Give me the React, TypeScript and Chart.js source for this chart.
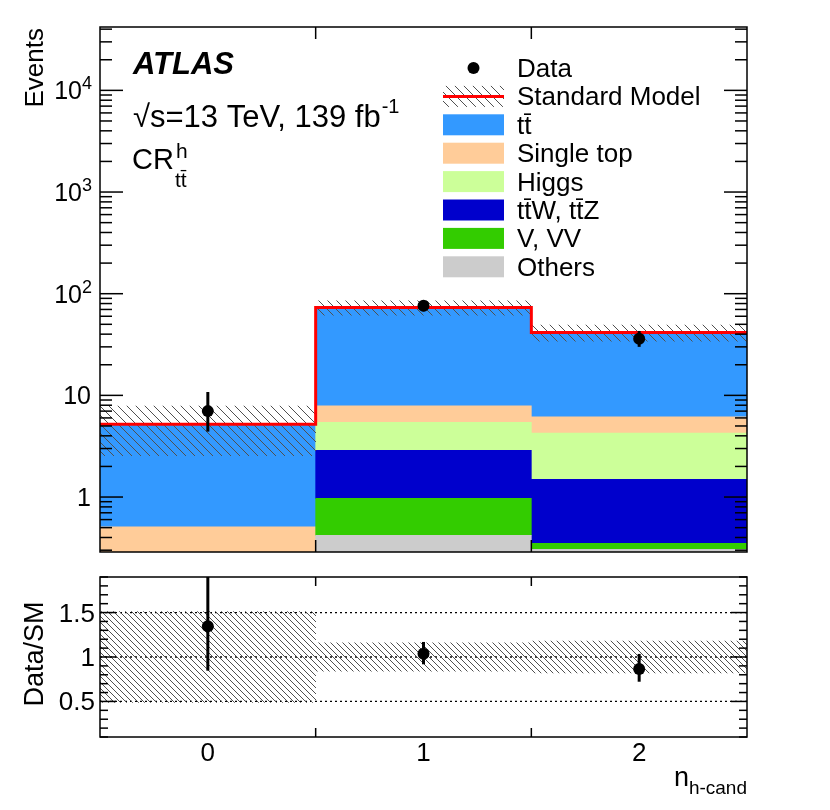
import { useEffect, useRef } from "react";
import { Chart, registerables } from "chart.js";

Chart.register(...registerables);

const binCentres = [0, 1, 2];
const binLabels = ["0", "1", "2"];

// SM processes, bottom of the stack first
const othersYield = [0.02, 0.42, 0.306];
const vvYield = [0.05, 0.55, 0.044];
const ttvYield = [0.08, 1.91, 1.14];
const higgsYield = [0.06, 2.54, 2.77];
const singleTopYield = [0.3, 2.48, 1.9];
const ttbarYield = [4.69, 65.4, 35.4];

// relative total uncertainty of the SM prediction
const smRelUnc = [0.51, 0.16, 0.18];

const dataYield = [7, 76, 36];
const dataErrDown = [2.6, 8.7, 6.0];
const dataErrUp = [3.8, 9.7, 7.0];

const logTickLabels = [1, 10, 100, 1000, 10000];
const ratioTickLabels = [0.5, 1, 1.5];

const stackYields = [othersYield, vvYield, ttvYield, higgsYield, singleTopYield, ttbarYield];
const processNames = ["Others", "V, VV", "tt\u0304W, tt\u0304Z", "Higgs", "Single top", "tt\u0304"];
const processColors = ["#cccccc", "#33cc00", "#0000cc", "#ccff99", "#ffcc99", "#3399ff"];

const FONT = '"Liberation Sans", Arial, Helvetica, sans-serif';
const STACK_FLOOR = 1e-3;

const cum = (upto: number, b: number) =>
  stackYields.slice(0, upto).reduce((s, arr) => s + arr[b], 0);
const smTotal = binCentres.map((_, b) => cum(stackYields.length, b));
const lastBin = binCentres.length - 1;
const binEdges = [...binCentres.map((c) => c - 0.5), binCentres[lastBin] + 0.5];

function makeHatch(step: number) {
  const c = document.createElement("canvas");
  c.width = step;
  c.height = step;
  const g = c.getContext("2d")!;
  g.strokeStyle = "#505050";
  g.lineWidth = 1;
  g.beginPath();
  for (let k = -1; k <= 1; k++) {
    g.moveTo(k * step, 0);
    g.lineTo(k * step + step, step);
  }
  g.stroke();
  return g.createPattern(c, "repeat")!;
}

function line(ctx: CanvasRenderingContext2D, x1: number, y1: number, x2: number, y2: number) {
  ctx.beginPath();
  ctx.moveTo(x1, y1);
  ctx.lineTo(x2, y2);
  ctx.stroke();
}

function drawErrorBars(chart: any, values: number[], lo: number[], hi: number[]) {
  const ctx: CanvasRenderingContext2D = chart.ctx;
  const { left, right, top, bottom } = chart.chartArea;
  const xs = chart.scales.x;
  const ys = chart.scales.y;
  ctx.save();
  ctx.beginPath();
  ctx.rect(left, top, right - left, bottom - top);
  ctx.clip();
  ctx.strokeStyle = "#000";
  ctx.lineWidth = 3;
  values.forEach((v, i) => {
    const px = xs.getPixelForValue(binCentres[i]);
    line(ctx, px, ys.getPixelForValue(v - lo[i]), px, ys.getPixelForValue(v + hi[i]));
  });
  ctx.restore();
}

function drawXTicks(chart: any, len: number) {
  const ctx: CanvasRenderingContext2D = chart.ctx;
  const { top, bottom } = chart.chartArea;
  const xs = chart.scales.x;
  binEdges.slice(1, -1).forEach((e) => {
    const px = xs.getPixelForValue(e);
    line(ctx, px, bottom, px, bottom - len);
    line(ctx, px, top, px, top + len);
  });
}

const mainDecor = {
  id: "mainDecor",
  afterDatasetsDraw(chart: any) {
    drawErrorBars(chart, dataYield, dataErrDown, dataErrUp);
  },
  afterDraw(chart: any) {
    const ctx: CanvasRenderingContext2D = chart.ctx;
    const { left, right, top, bottom } = chart.chartArea;
    const ys = chart.scales.y;
    ctx.save();
    ctx.strokeStyle = "#000";
    ctx.fillStyle = "#000";
    ctx.lineWidth = 1.5;

    // y ticks on both sides
    for (let e = -1; e <= 5; e++) {
      for (let k = 1; k <= 9; k++) {
        const v = k * Math.pow(10, e);
        if (v < ys.min || v > ys.max) continue;
        const py = ys.getPixelForValue(v);
        const len = k === 1 ? 23 : 12;
        line(ctx, left, py, left + len, py);
        line(ctx, right - len, py, right, py);
      }
    }
    drawXTicks(chart, 12);
    ctx.strokeRect(left, top, right - left, bottom - top);

    // y tick labels
    ctx.textAlign = "right";
    ctx.textBaseline = "alphabetic";
    logTickLabels.forEach((v) => {
      const py = ys.getPixelForValue(v) + 9;
      const exp = Math.round(Math.log10(v));
      ctx.font = `25px ${FONT}`;
      if (exp < 2) {
        ctx.fillText(String(v), 91, py);
      } else {
        ctx.font = `18px ${FONT}`;
        const sup = String(exp);
        const ws = ctx.measureText(sup).width;
        ctx.fillText(sup, 92, py - 10);
        ctx.font = `25px ${FONT}`;
        ctx.fillText("10", 92 - ws, py);
      }
    });

    // y title
    ctx.save();
    ctx.translate(43, 28);
    ctx.rotate(-Math.PI / 2);
    ctx.font = `26px ${FONT}`;
    ctx.textAlign = "right";
    ctx.fillText("Events", 0, 0);
    ctx.restore();

    // labels
    ctx.textAlign = "left";
    ctx.font = `italic bold 31px ${FONT}`;
    ctx.fillText("ATLAS", 133, 74);

    ctx.font = `31px ${FONT}`;
    const lumi = "\u221As=13 TeV, 139 fb";
    const wl = ctx.measureText(lumi).width;
    ctx.fillText(lumi, 133, 127);
    ctx.font = `20px ${FONT}`;
    ctx.fillText("-1", 133 + wl + 1, 113);

    ctx.font = `29px ${FONT}`;
    const wc = ctx.measureText("CR").width;
    ctx.fillText("CR", 132, 169);
    ctx.font = `21px ${FONT}`;
    ctx.fillText("h", 132 + wc + 2, 158);
    ctx.fillText("tt\u0304", 132 + wc + 1, 187);

    // legend
    const rowY = (i: number) => 68 + i * 28.4;
    const boxL = 443;
    const boxW = 61;
    const boxH = 21;
    const textX = 517;
    ctx.font = `26px ${FONT}`;
    ctx.beginPath();
    ctx.arc(boxL + boxW / 2, rowY(0), 6, 0, Math.PI * 2);
    ctx.fill();
    ctx.fillText("Data", textX, rowY(0) + 9);

    ctx.fillStyle = chart.$hatch;
    ctx.fillRect(boxL, rowY(1) - boxH / 2, boxW, boxH);
    ctx.strokeStyle = "#ff0000";
    ctx.lineWidth = 3;
    line(ctx, boxL, rowY(1), boxL + boxW, rowY(1));
    ctx.fillStyle = "#000";
    ctx.fillText("Standard Model", textX, rowY(1) + 9);

    const order = processNames.map((_, i) => processNames.length - 1 - i);
    order.forEach((p, i) => {
      const yc = rowY(i + 2);
      ctx.fillStyle = processColors[p];
      ctx.fillRect(boxL, yc - boxH / 2, boxW, boxH);
      ctx.fillStyle = "#000";
      ctx.fillText(processNames[p], textX, yc + 9);
    });
    ctx.restore();
  },
};

const ratioDecor = {
  id: "ratioDecor",
  beforeDatasetsDraw(chart: any) {
    const ctx: CanvasRenderingContext2D = chart.ctx;
    const { left, right } = chart.chartArea;
    const ys = chart.scales.y;
    ctx.save();
    ctx.strokeStyle = "#000";
    ctx.lineWidth = 1.3;
    ctx.setLineDash([2, 3]);
    ratioTickLabels.forEach((v) => {
      const py = ys.getPixelForValue(v);
      line(ctx, left, py, right, py);
    });
    ctx.restore();
  },
  afterDatasetsDraw(chart: any) {
    const ratio = dataYield.map((d, b) => d / smTotal[b]);
    drawErrorBars(
      chart,
      ratio,
      dataErrDown.map((e, b) => e / smTotal[b]),
      dataErrUp.map((e, b) => e / smTotal[b])
    );
  },
  afterDraw(chart: any) {
    const ctx: CanvasRenderingContext2D = chart.ctx;
    const { left, right, top, bottom } = chart.chartArea;
    const xs = chart.scales.x;
    const ys = chart.scales.y;
    ctx.save();
    ctx.strokeStyle = "#000";
    ctx.fillStyle = "#000";
    ctx.lineWidth = 1.5;
    for (let i = 1; i <= 19; i++) {
      const v = i / 10;
      if (v < ys.min || v > ys.max) continue;
      const py = ys.getPixelForValue(v);
      const len = i % 5 === 0 ? 16 : 8;
      line(ctx, left, py, left + len, py);
      line(ctx, right - len, py, right, py);
    }
    drawXTicks(chart, 9);
    ctx.strokeRect(left, top, right - left, bottom - top);

    ctx.font = `26px ${FONT}`;
    ctx.textAlign = "right";
    ratioTickLabels.forEach((v) => {
      ctx.fillText(String(v), 95, ys.getPixelForValue(v) + 9);
    });
    ctx.textAlign = "center";
    binLabels.forEach((lab, i) => {
      ctx.fillText(lab, xs.getPixelForValue(binCentres[i]), bottom + 24);
    });

    // x title n_{h-cand}
    ctx.textAlign = "left";
    ctx.font = `19px ${FONT}`;
    const ws = ctx.measureText("h-cand").width;
    ctx.fillText("h-cand", right - ws, 224);
    ctx.font = `27px ${FONT}`;
    const wn = ctx.measureText("n").width;
    ctx.fillText("n", right - ws - wn, 216);

    // y title
    ctx.save();
    ctx.translate(43, (top + bottom) / 2 - 3);
    ctx.rotate(-Math.PI / 2);
    ctx.font = `27px ${FONT}`;
    ctx.textAlign = "center";
    ctx.fillText("Data/SM", 0, 0);
    ctx.restore();
    ctx.restore();
  },
};

const xScale = {
  type: "linear" as const,
  min: binEdges[0],
  max: binEdges[binEdges.length - 1],
  offset: false,
  display: false,
  afterBuildTicks: (s: any) => {
    s.ticks = binEdges.map((v) => ({ value: v }));
  },
};

export default function App() {
  const mainRef = useRef<HTMLCanvasElement>(null);
  const ratioRef = useRef<HTMLCanvasElement>(null);

  useEffect(() => {
    if (!mainRef.current || !ratioRef.current) return;
    const hatchMain = makeHatch(9);
    const hatchRatio = makeHatch(6);

    const barCommon = {
      borderWidth: 0,
      grouped: false,
      barPercentage: 1,
      categoryPercentage: 1,
    };

    const main = new Chart(mainRef.current, {
      type: "bar",
      data: {
        datasets: [
          ...stackYields.map((arr, p) => ({
            type: "bar" as const,
            label: processNames[p],
            data: binCentres.map((x, b) => ({
              x,
              y: [p === 0 ? STACK_FLOOR : cum(p, b), cum(p + 1, b)],
            })),
            backgroundColor: processColors[p],
            order: 10,
            ...barCommon,
          })),
          {
            type: "bar" as const,
            label: "SM uncertainty",
            data: binCentres.map((x, b) => ({
              x,
              y: [smTotal[b] * (1 - smRelUnc[b]), smTotal[b] * (1 + smRelUnc[b])],
            })),
            backgroundColor: hatchMain,
            order: 5,
            ...barCommon,
          },
          {
            type: "line" as const,
            label: "Standard Model",
            data: [
              ...binCentres.map((x, b) => ({ x: x - 0.5, y: smTotal[b] })),
              { x: binCentres[lastBin] + 0.5, y: smTotal[lastBin] },
            ],
            stepped: true,
            borderColor: "#ff0000",
            borderWidth: 3,
            pointRadius: 0,
            fill: false,
            order: 2,
          },
          {
            type: "line" as const,
            label: "Data",
            data: binCentres.map((x, b) => ({ x, y: dataYield[b] })),
            showLine: false,
            pointRadius: 6,
            pointBorderWidth: 0,
            pointBackgroundColor: "#000",
            order: 1,
          },
        ] as any,
      },
      options: {
        animation: false,
        responsive: false,
        events: [],
        layout: { padding: { left: 100, right: 83, top: 27, bottom: 18 } },
        plugins: { legend: { display: false }, tooltip: { enabled: false } },
        scales: {
          x: xScale as any,
          y: { type: "logarithmic", min: 0.288, max: 42000, display: false },
        },
      },
      plugins: [mainDecor],
    });
    (main as any).$hatch = hatchMain;
    main.draw();

    const ratio = new Chart(ratioRef.current, {
      type: "bar",
      data: {
        datasets: [
          {
            type: "bar" as const,
            label: "SM uncertainty",
            data: binCentres.map((x, b) => ({ x, y: [1 - smRelUnc[b], 1 + smRelUnc[b]] })),
            backgroundColor: hatchRatio,
            order: 5,
            ...barCommon,
          },
          {
            type: "line" as const,
            label: "Data/SM",
            data: binCentres.map((x, b) => ({ x, y: dataYield[b] / smTotal[b] })),
            showLine: false,
            pointRadius: 6,
            pointBorderWidth: 0,
            pointBackgroundColor: "#000",
            order: 1,
          },
        ] as any,
      },
      options: {
        animation: false,
        responsive: false,
        events: [],
        layout: { padding: { left: 100, right: 83, top: 7, bottom: 73 } },
        plugins: { legend: { display: false }, tooltip: { enabled: false } },
        scales: {
          x: xScale as any,
          y: { type: "linear", min: 0.1, max: 1.9, display: false },
        },
      },
      plugins: [ratioDecor],
    });

    return () => {
      main.destroy();
      ratio.destroy();
    };
  }, []);

  return (
    <div style={{ position: "absolute", left: 0, top: 0, width: 830, height: 810, background: "#fff" }}>
      <canvas ref={mainRef} width={830} height={570} style={{ display: "block" }} />
      <canvas ref={ratioRef} width={830} height={240} style={{ display: "block" }} />
    </div>
  );
}
